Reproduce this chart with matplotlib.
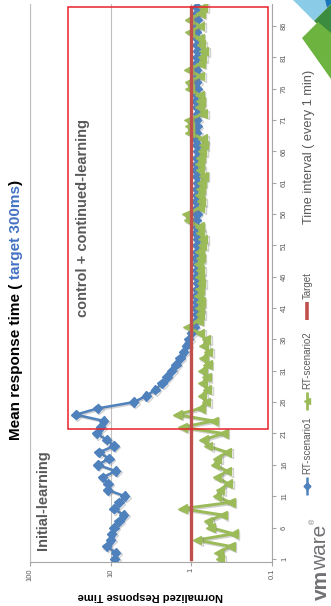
import matplotlib
matplotlib.use("Agg")
import matplotlib.pyplot as plt
import numpy as np
from matplotlib import patheffects as pe
from matplotlib.patches import Rectangle, Polygon
from matplotlib.ticker import NullLocator

plt.rcParams['font.family'] = ['Liberation Sans', 'DejaVu Sans']

# ---- data -------------------------------------------------------------
rt_scenario1 = [
    8.9, 8.7, 11.2, 10.0, 9.7, 9.1, 7.9, 6.9, 9.1, 7.9,
    6.7, 10.9, 10.8, 12.6, 8.7, 14.4, 10.5, 13.9, 9.1, 11.2,
    14.9, 13.3, 12.2, 27.0, 14.5, 5.2, 3.6, 2.8, 2.3, 2.0,
    1.75, 1.55, 1.38, 1.25, 1.15, 1.08, 1.0, 0.93, 0.88, 0.86,
    0.87, 0.85, 0.88, 0.86, 0.84, 0.87, 0.86, 0.85, 0.88, 0.86,
    0.85, 0.84, 0.87, 0.86, 0.88, 0.85, 0.86, 0.87, 0.85, 0.86,
    0.84, 0.86, 0.87, 0.85, 0.86, 0.84, 0.85, 0.87, 0.86, 0.85,
    0.86, 0.84, 0.85, 0.87, 0.86, 0.85, 0.86, 0.84, 0.86, 0.87,
    0.85, 0.84, 0.86, 0.85, 0.87, 0.86, 0.84, 0.85, 0.86,
]
rt_scenario2 = [
    0.44, 0.46, 0.33, 0.85, 0.30, 0.58, 0.62, 0.41, 1.30, 0.33,
    0.48, 0.44, 0.35, 0.48, 0.36, 0.51, 0.48, 0.36, 0.62, 0.71,
    0.40, 1.30, 0.53, 1.50, 0.77, 0.66, 0.74, 0.64, 0.72, 0.65,
    0.73, 0.63, 0.71, 0.62, 0.70, 0.66, 0.78, 1.12, 0.82, 0.78,
    0.80, 0.77, 0.81, 0.79, 0.76, 0.80, 0.78, 0.82, 0.77, 0.79,
    0.74, 0.72, 0.78, 0.80, 1.10, 1.15, 0.78, 0.76, 0.80, 0.77,
    0.75, 0.71, 0.78, 0.80, 0.77, 0.74, 0.71, 0.72, 1.06, 1.05,
    1.08, 0.72, 0.79, 0.77, 0.80, 1.05, 1.07, 0.78, 1.08, 0.77,
    0.74, 0.70, 0.76, 0.79, 1.05, 0.78, 1.07, 0.77, 0.72,
]
target = [1.0] * len(rt_scenario1)
intervals = np.arange(1, len(rt_scenario1) + 1)

value_ticks = [100, 10, 1, 0.1]
value_labels = ['100', '10', '1', '0.1']
interval_ticks = list(range(1, 87, 5))

BLUE = '#4F81BD'
GREEN = '#9BBB59'
RED = '#C0504D'
GREY_TXT = '#595959'

W, H = 331, 606
fig = plt.figure(figsize=(W / 100, H / 100), dpi=100)


def px_rect(x0, y0, x1, y1):
    return [x0 / W, 1 - y1 / H, (x1 - x0) / W, (y1 - y0) / H]


# ---- main (rotated) chart: values run right-to-left, time runs upward --
ax = fig.add_axes(px_rect(30, 4, 272, 562))
ax.set_xscale('log')
ax.set_xlim(100, 0.1)
ax.set_ylim(0.5, len(intervals) + 0.5)
ax.xaxis.set_minor_locator(NullLocator())
ax.set_xticks(value_ticks)
ax.set_xticklabels(value_labels)
ax.yaxis.tick_right()
ax.set_yticks(interval_ticks)
ax.set_yticklabels([str(v) for v in interval_ticks])
ax.tick_params(axis='x', direction='out', length=3, width=0.8, color='#A6A6A6',
               labelsize=5.5, labelcolor=GREY_TXT, labelrotation=90, pad=1.5)
ax.tick_params(axis='y', direction='out', length=3, width=0.8, color='#A6A6A6',
               labelsize=5.5, labelcolor=GREY_TXT, labelrotation=90, pad=3.5)
for lab in ax.get_yticklabels():
    lab.set_verticalalignment('center')
ax.spines['top'].set_visible(False)
ax.spines['left'].set_color('#BFBFBF')
ax.spines['bottom'].set_color('#A6A6A6')
ax.spines['right'].set_color('#A6A6A6')
for s in ('left', 'bottom', 'right'):
    ax.spines[s].set_linewidth(0.8)
ax.grid(axis='x', which='major', color='#BFBFBF', lw=0.8)
ax.set_axisbelow(True)

shadow = [pe.SimpleLineShadow(offset=(1.0, -1.0), shadow_color='#7f7f7f', alpha=0.35),
          pe.Normal()]
ax.plot(rt_scenario1, intervals, color=BLUE, lw=1.8, marker='D', ms=4.8,
        mfc=BLUE, mec=BLUE, path_effects=shadow, zorder=3)
ax.plot(rt_scenario2, intervals, color=GREEN, lw=2.1, marker='<', ms=6.3,
        mfc=GREEN, mec=GREEN, path_effects=shadow, zorder=4)
ax.plot(target, intervals, color=RED, lw=2.4, zorder=5)

# ---- overlay in pixel coordinates for annotations ---------------------
ov = fig.add_axes([0, 0, 1, 1], zorder=10)
ov.set_xlim(0, W)
ov.set_ylim(H, 0)
ov.axis('off')
ov.patch.set_alpha(0)

ov.add_patch(Rectangle((68, 7), 200, 422, fill=False, edgecolor='#E8202A', lw=1.1))

ov.text(43, 550, 'Initial-learning', rotation=90, rotation_mode='anchor',
        ha='left', va='center', fontsize=10.5, weight='bold', color=GREY_TXT)
ov.text(83, 317, 'control + continued-learning', rotation=90, rotation_mode='anchor',
        ha='left', va='center', fontsize=10.5, weight='bold', color=GREY_TXT)

ov.text(150, 596, 'Normalized Response Time', rotation=180, ha='center', va='center',
        fontsize=8, weight='bold', color='black')
ov.text(309, 147, 'Time interval ( every 1 min)', rotation=90, ha='center', va='center',
        fontsize=9.2, color=GREY_TXT)

renderer = fig.canvas.get_renderer()
inv = ov.transData.inverted()


def text_end(txt):
    bb = txt.get_window_extent(renderer)
    return inv.transform((bb.x0, bb.y1))[1]


def space_width(size, weight):
    a = ov.text(0, 0, 'x x', fontsize=size, weight=weight)
    b = ov.text(0, 0, 'xx', fontsize=size, weight=weight)
    w = a.get_window_extent(renderer).width - b.get_window_extent(renderer).width
    a.remove()
    b.remove()
    return w


def chain(x, y, pieces, size):
    for s, color, weight, gap in pieces:
        y -= gap * space_width(size, weight)
        t = ov.text(x, y, s, rotation=90, rotation_mode='anchor', ha='left',
                    va='baseline', fontsize=size, weight=weight, color=color)
        y = text_end(t)
    return y


# title
chain(20, 440, [('Mean response time (', 'black', 'bold', 0),
                ('target 300ms', '#4472C4', 'bold', 1),
                (')', 'black', 'bold', 0)], 11)

# legend
def legend_entry(y_start, color, marker, ms, lw, label):
    ov.plot([307, 307], [y_start, y_start - 18], color=color, lw=lw, solid_capstyle='butt')
    if marker:
        ov.plot([307], [y_start - 9], marker=marker, ms=ms, color=color)
    ov.text(307.5, y_start - 21, label, rotation=90, rotation_mode='anchor',
            ha='left', va='center', fontsize=7, color=GREY_TXT)


legend_entry(495, BLUE, 'D', 3.5, 1.8, 'RT-scenario1')
legend_entry(410, GREEN, '<', 4.5, 2.0, 'RT-scenario2')
legend_entry(320, RED, None, 0, 2.6, 'Target')

# logo mark
LOGO_GREY = '#717074'
ov.add_patch(Polygon([(293, 0), (325, 0), (327, 8), (314, 21)], closed=True,
                     color='#8ACCE8', lw=0))
ov.add_patch(Polygon([(325, 0), (331, 0), (331, 4), (327, 8)], closed=True,
                     color='#1B75BB', lw=0))
ov.add_patch(Polygon([(314, 21), (331, 4), (331, 36)], closed=True,
                     color='#3C8C3F', lw=0))
ov.add_patch(Polygon([(302, 38), (318, 22), (331, 33), (331, 79)], closed=True,
                     color='#6CB33F', lw=0))

y_end = chain(326.5, 600, [('vm', LOGO_GREY, 'bold', 0),
                           ('ware', LOGO_GREY, 'normal', 0)], 15)
ov.text(315.5, y_end - 1, '®', rotation=90, rotation_mode='anchor', ha='left',
        va='baseline', fontsize=5, color=LOGO_GREY)

fig.savefig('out.png', dpi=100)
